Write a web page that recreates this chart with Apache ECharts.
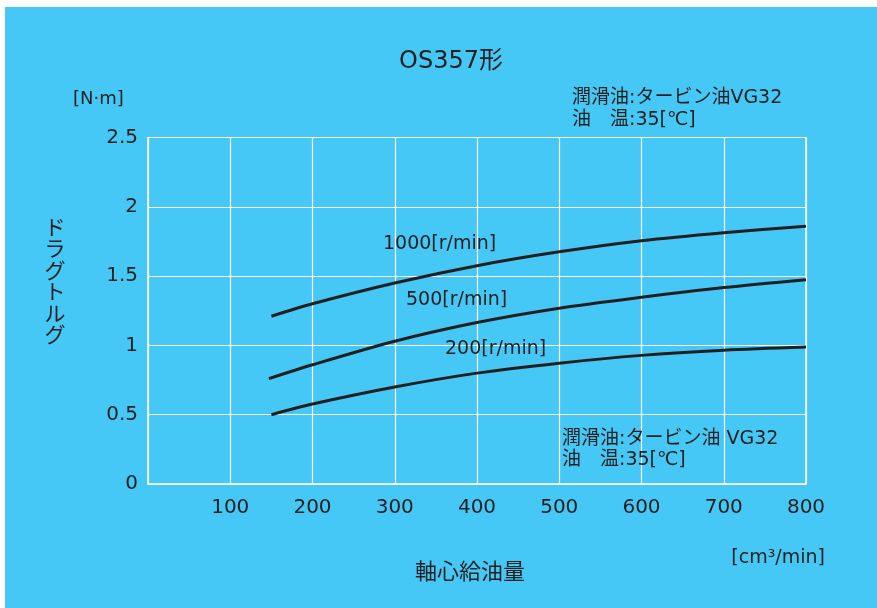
<!DOCTYPE html>
<html>

<head>
    <meta charset="utf-8">
    <title>OS357形 ドラグトルグ</title>
    <style>
        body {
            margin: 0;
            background: #ffffff;
        }

        #chart-container {
            position: absolute;
            left: 5px;
            top: 7px;
            width: 872px;
            height: 601px;
            background: #45c8f5;
        }
    </style>
    <script src="https://cdn.jsdelivr.net/npm/echarts@6/dist/echarts.min.js"></script>
</head>

<body>
    <div id="chart-container"></div>
    <script>
        // 軸心給油量 [cm3/min]
        const flow = [150, 200, 300, 400, 500, 600, 700, 800];
        const flow500 = [147, 200, 300, 400, 500, 600, 700, 800];
        // ドラグトルグ [N・m]
        const torque1000 = [1.21, 1.30, 1.45, 1.575, 1.675, 1.755, 1.813, 1.86];
        const torque500 = [0.76, 0.86, 1.03, 1.165, 1.268, 1.347, 1.417, 1.474];
        const torque200 = [0.50, 0.577, 0.70, 0.80, 0.872, 0.928, 0.965, 0.988];
        const seriesNames = ['1000[r/min]', '500[r/min]', '200[r/min]'];

        const FONT = "'DejaVu Sans', 'Noto Sans CJK JP', sans-serif";
        const INK = '#231f20';

        function pairs(xs, ys) {
            return xs.map((x, i) => [x, ys[i]]);
        }

        // graphic text anchored at (x, y)
        function txt(x, y, text, size, align) {
            return {
                type: 'text',
                x: x,
                y: y,
                z: 100,
                style: {
                    text: text,
                    font: size + 'px ' + FONT,
                    fill: INK,
                    align: align || 'left',
                    verticalAlign: 'middle'
                }
            };
        }

        var dom = document.getElementById('chart-container');
        var myChart = echarts.init(dom, null, { renderer: 'canvas' });

        const lineSeries = [
            pairs(flow, torque1000),
            pairs(flow500, torque500),
            pairs(flow, torque200)
        ].map((d, i) => ({
            name: seriesNames[i],
            type: 'line',
            data: d,
            smooth: 0.3,
            showSymbol: false,
            lineStyle: { color: INK, width: 3 },
            z: 5
        }));

        var option = {
            animation: false,
            grid: {
                left: 143,
                top: 130.5,
                width: 658,
                height: 346.5
            },
            xAxis: {
                type: 'value',
                min: 0,
                max: 800,
                interval: 100,
                axisLine: { show: true, lineStyle: { color: '#ffffff', width: 1.5 } },
                axisTick: { show: false },
                splitLine: { show: true, lineStyle: { color: '#ffffff', width: 1.2 } },
                axisLabel: {
                    margin: 14,
                    color: INK,
                    fontFamily: FONT,
                    fontSize: 20,
                    formatter: v => (v === 0 ? '' : v)
                }
            },
            yAxis: {
                type: 'value',
                min: 0,
                max: 2.5,
                interval: 0.5,
                axisLine: { show: true, lineStyle: { color: '#ffffff', width: 1.5 } },
                axisTick: { show: false },
                splitLine: { show: true, lineStyle: { color: '#ffffff', width: 1.2 } },
                axisLabel: {
                    margin: 10,
                    color: INK,
                    fontFamily: FONT,
                    fontSize: 20
                }
            },
            series: lineSeries,
            graphic: [
                // right border of the plot
                {
                    type: 'line',
                    shape: { x1: 801, y1: 130.5, x2: 801, y2: 477 },
                    style: { stroke: '#ffffff', lineWidth: 1.5 }
                },
                txt(446, 55, 'OS357形', 24, 'center'),
                txt(68, 92, '[N·m]', 18),
                txt(567, 91, '潤滑油:タービン油VG32', 19),
                txt(567, 113, '油　温:35[℃]', 19),
                txt(557, 432, '潤滑油:タービン油 VG32', 19),
                txt(557, 453, '油　温:35[℃]', 19),
                txt(378, 237, seriesNames[0], 19),
                txt(401, 293, seriesNames[1], 19),
                txt(440, 342, seriesNames[2], 19),
                txt(820, 551, '[cm³/min]', 19, 'right'),
                txt(465, 566, '軸心給油量', 22, 'center'),
                {
                    type: 'text',
                    x: 50,
                    y: 276,
                    z: 100,
                    style: {
                        text: 'ドラグトルグ'.split('').join('\n'),
                        font: '21px ' + FONT,
                        lineHeight: 21.5,
                        fill: INK,
                        align: 'center',
                        verticalAlign: 'middle'
                    }
                }
            ]
        };

        if (option && typeof option === 'object') {
            myChart.setOption(option);
        }

        window.addEventListener('resize', myChart.resize);
    </script>
</body>

</html>
